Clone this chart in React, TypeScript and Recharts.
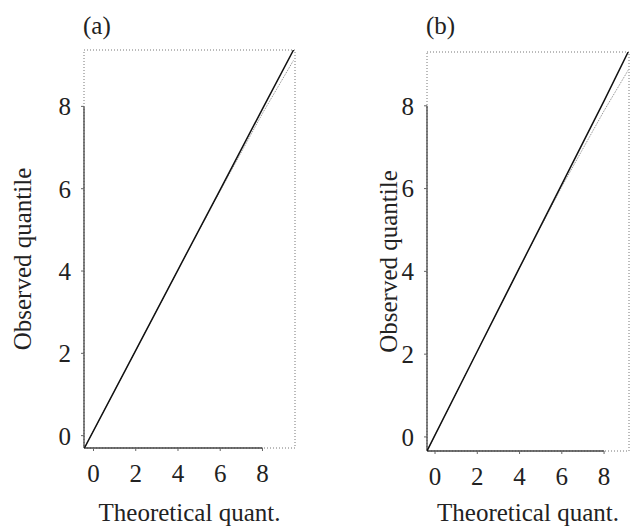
import React from "react";
import {
  LineChart,
  Line,
  XAxis,
  YAxis,
  ReferenceArea,
  ReferenceLine,
} from "recharts";

// tick values shared by both panels
const xTicks = [0, 2, 4, 6, 8];
const yTicks = [0, 2, 4, 6, 8];

// panel (a)
const theoA = [-0.43, 2, 4, 6, 8, 9.47];
const obsA = [-0.3, 2.07, 4.03, 5.98, 7.94, 9.37];
const refA = [-0.3, 2.07, 4.03, 5.95, 7.83, 9.12];

// panel (b)
const theoB = [-0.38, 2, 4, 6, 8, 9.14];
const obsB = [-0.34, 2.07, 4.09, 6.1, 8.12, 9.3];
const refB = [-0.34, 2.07, 4.09, 6.05, 7.88, 8.86];

const FONT = "Liberation Serif";
const tickStyle = { fontSize: 25, fill: "#222", fontFamily: FONT };

interface PanelProps {
  title: string;
  left: number;
  width: number;
  theo: number[];
  obs: number[];
  refq: number[];
  xDomain: [number, number];
  yDomain: [number, number];
  margin: { top: number; right: number; bottom: number; left: number };
  yAxisWidth: number;
  xAxisHeight: number;
  yTitleX: number;
  titleX: number;
}

const Panel: React.FC<PanelProps> = ({
  title,
  left,
  width,
  theo,
  obs,
  refq,
  xDomain,
  yDomain,
  margin,
  yAxisWidth,
  xAxisHeight,
  yTitleX,
  titleX,
}) => {
  const data = theo.map((t, i) => ({ t, obs: obs[i], ref: refq[i] }));
  const [x0, x1] = xDomain;
  const [y0, y1] = yDomain;

  return (
    <div style={{ position: "absolute", left, top: 0, width, height: 526 }}>
      <div
        style={{
          position: "absolute",
          left: titleX,
          top: 13,
          fontFamily: FONT,
          fontSize: 25,
          lineHeight: "25px",
          color: "#222",
        }}
      >
        {title}
      </div>
      <LineChart width={width} height={526} data={data} margin={margin}>
        <XAxis
          dataKey="t"
          type="number"
          domain={xDomain}
          allowDataOverflow
          ticks={xTicks}
          axisLine={false}
          tickLine={{ stroke: "#666" }}
          tickSize={3}
          tickMargin={13}
          height={xAxisHeight}
          tick={tickStyle}
          label={{
            content: (p: any) => (
              <text
                x={p.viewBox.x + p.viewBox.width / 2}
                y={521}
                textAnchor="middle"
                style={tickStyle}
              >
                Theoretical quant.
              </text>
            ),
          }}
        />
        <YAxis
          type="number"
          domain={yDomain}
          allowDataOverflow
          ticks={yTicks}
          axisLine={false}
          tickLine={{ stroke: "#666" }}
          tickSize={3}
          tickMargin={10}
          width={yAxisWidth}
          tick={tickStyle}
          label={{
            content: (p: any) => {
              const cy = p.viewBox.y + p.viewBox.height / 2 + 10;
              return (
                <text
                  x={yTitleX}
                  y={cy}
                  textAnchor="middle"
                  transform={`rotate(-90 ${yTitleX} ${cy})`}
                  style={tickStyle}
                >
                  Observed quantile
                </text>
              );
            },
          }}
        />
        <ReferenceArea
          x1={x0}
          x2={x1}
          y1={y0}
          y2={y1}
          fill="none"
          stroke="#777"
          strokeDasharray="1 2"
        />
        <ReferenceLine
          segment={[
            { x: x0, y: y0 },
            { x: 8, y: y0 },
          ]}
          stroke="#444"
          strokeWidth={1.3}
        />
        <ReferenceLine
          segment={[
            { x: x0, y: y0 },
            { x: x0, y: 8 },
          ]}
          stroke="#444"
          strokeWidth={1.3}
        />
        <Line
          dataKey="ref"
          stroke="#888"
          strokeWidth={1}
          strokeDasharray="1 1"
          dot={false}
          isAnimationActive={false}
        />
        <Line
          dataKey="obs"
          stroke="#111"
          strokeWidth={1.5}
          dot={false}
          isAnimationActive={false}
        />
      </LineChart>
    </div>
  );
};

export default function App() {
  return (
    <div
      style={{
        position: "absolute",
        left: 0,
        top: 0,
        width: 630,
        height: 526,
        background: "#fff",
      }}
    >
      <Panel
        title="(a)"
        left={0}
        width={315}
        theo={theoA}
        obs={obsA}
        refq={refA}
        xDomain={[-0.45, 9.54]}
        yDomain={[-0.3, 9.37]}
        margin={{ top: 50, right: 20, bottom: 0, left: 0 }}
        yAxisWidth={84}
        xAxisHeight={78}
        yTitleX={31}
        titleX={83}
      />
      <Panel
        title="(b)"
        left={315}
        width={315}
        theo={theoB}
        obs={obsB}
        refq={refB}
        xDomain={[-0.38, 9.18]}
        yDomain={[-0.34, 9.3]}
        margin={{ top: 52, right: 1, bottom: 0, left: 0 }}
        yAxisWidth={112}
        xAxisHeight={75}
        yTitleX={82}
        titleX={111}
      />
    </div>
  );
}
